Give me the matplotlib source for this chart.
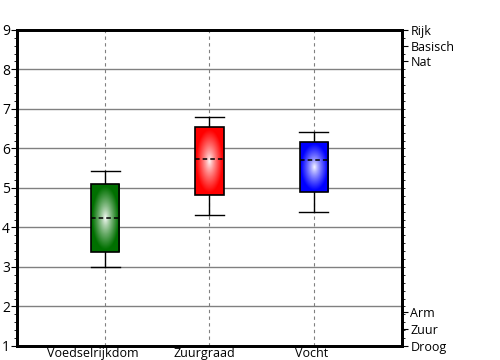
import matplotlib
matplotlib.use('Agg')
import matplotlib.pyplot as plt
import matplotlib.transforms as mtransforms
import numpy as np
from matplotlib.colors import LinearSegmentedColormap
from matplotlib.patches import Rectangle

categories = ['Voedselrijkdom', 'Zuurgraad', 'Vocht']
colors = ['#007000', '#ff0000', '#0000ff']
whisker_low = [3.0, 4.32, 4.39]
q1 = [3.38, 4.82, 4.9]
median = [4.24, 5.73, 5.71]
q3 = [5.1, 6.54, 6.16]
whisker_high = [5.43, 6.8, 6.42]
right_ticks = [9.0, 8.6, 8.2, 1.85, 1.43, 1.0]
right_labels = ['Rijk', 'Basisch', 'Nat', 'Arm', 'Zuur', 'Droog']

plt.rcParams['font.family'] = ['Open Sans', 'DejaVu Sans']
fig = plt.figure(figsize=(5, 3.6), dpi=100)
ax = fig.add_axes([0.034, 0.039, 0.77, 0.878])

pos = np.arange(1, len(categories) + 1)
w = 0.27
# radial gradient: white centre -> colour at edge
yy, xx = np.mgrid[-1:1:120j, -1:1:60j]
r = np.sqrt(xx**2 + yy**2)
for p, c, lo, a, m, b, hi in zip(pos, colors, whisker_low, q1, median, q3, whisker_high):
    cmap = LinearSegmentedColormap.from_list('g', ['white', c], N=256)
    ax.imshow(r**0.8, cmap=cmap, vmin=0, vmax=0.95, extent=[p - w/2, p + w/2, a, b],
              aspect='auto', zorder=3, interpolation='bilinear')
    rect = Rectangle((p - w/2, a), w, b - a, fill=False, ec='black', lw=1.2, zorder=4)
    ax.add_patch(rect)
    ax.plot([p, p], [lo, a], color='black', lw=1, zorder=2)
    ax.plot([p, p], [b, hi], color='black', lw=1, zorder=2)
    ax.plot([p - w/2 - 0.005, p + w/2 + 0.005], [lo, lo], color='black', lw=1, zorder=2)
    ax.plot([p - w/2 - 0.005, p + w/2 + 0.005], [hi, hi], color='black', lw=1, zorder=2)
    ax.plot([p - w/2, p + w/2], [m, m], color='black', lw=1.1, ls=(0, (3, 2)), zorder=5)

ax.set_xlim(0.15, 3.85)
ax.set_ylim(1, 9)
ax.set_xticks(pos)
ax.set_xticklabels(categories, fontsize=9)
ax.tick_params(axis='x', length=0, pad=1)
# labels in the original sit a little left of the category centre
for lab, dx in zip(ax.get_xticklabels(), [-13, -5, -2]):
    lab.set_transform(lab.get_transform() + mtransforms.ScaledTranslation(dx / 100, 0, fig.dpi_scale_trans))
ax.set_yticks(range(1, 10))
ax.set_yticks(np.arange(1, 9.01, 0.2), minor=True)
ax.tick_params(axis='y', which='major', length=4, labelsize=10, pad=1)
ax.tick_params(axis='y', which='minor', length=2)
for y in range(2, 9):
    ax.axhline(y, color='#808080', lw=1, zorder=1)
for p in pos:
    ax.axvline(p, color='#808080', lw=0.8, ls=(0, (3, 3)), zorder=1)
for s in ax.spines.values():
    s.set_linewidth(2)

ax2 = ax.twinx()
ax2.set_ylim(1, 9)
ax2.set_yticks(right_ticks)
ax2.set_yticklabels(right_labels, fontsize=9)
ax2.set_yticks(np.arange(1, 9.01, 0.2), minor=True)
ax2.tick_params(axis='y', which='major', length=4, pad=2)
ax2.tick_params(axis='y', which='minor', length=2)
for s in ax2.spines.values():
    s.set_linewidth(2)

fig.savefig('out.png', dpi=100)
